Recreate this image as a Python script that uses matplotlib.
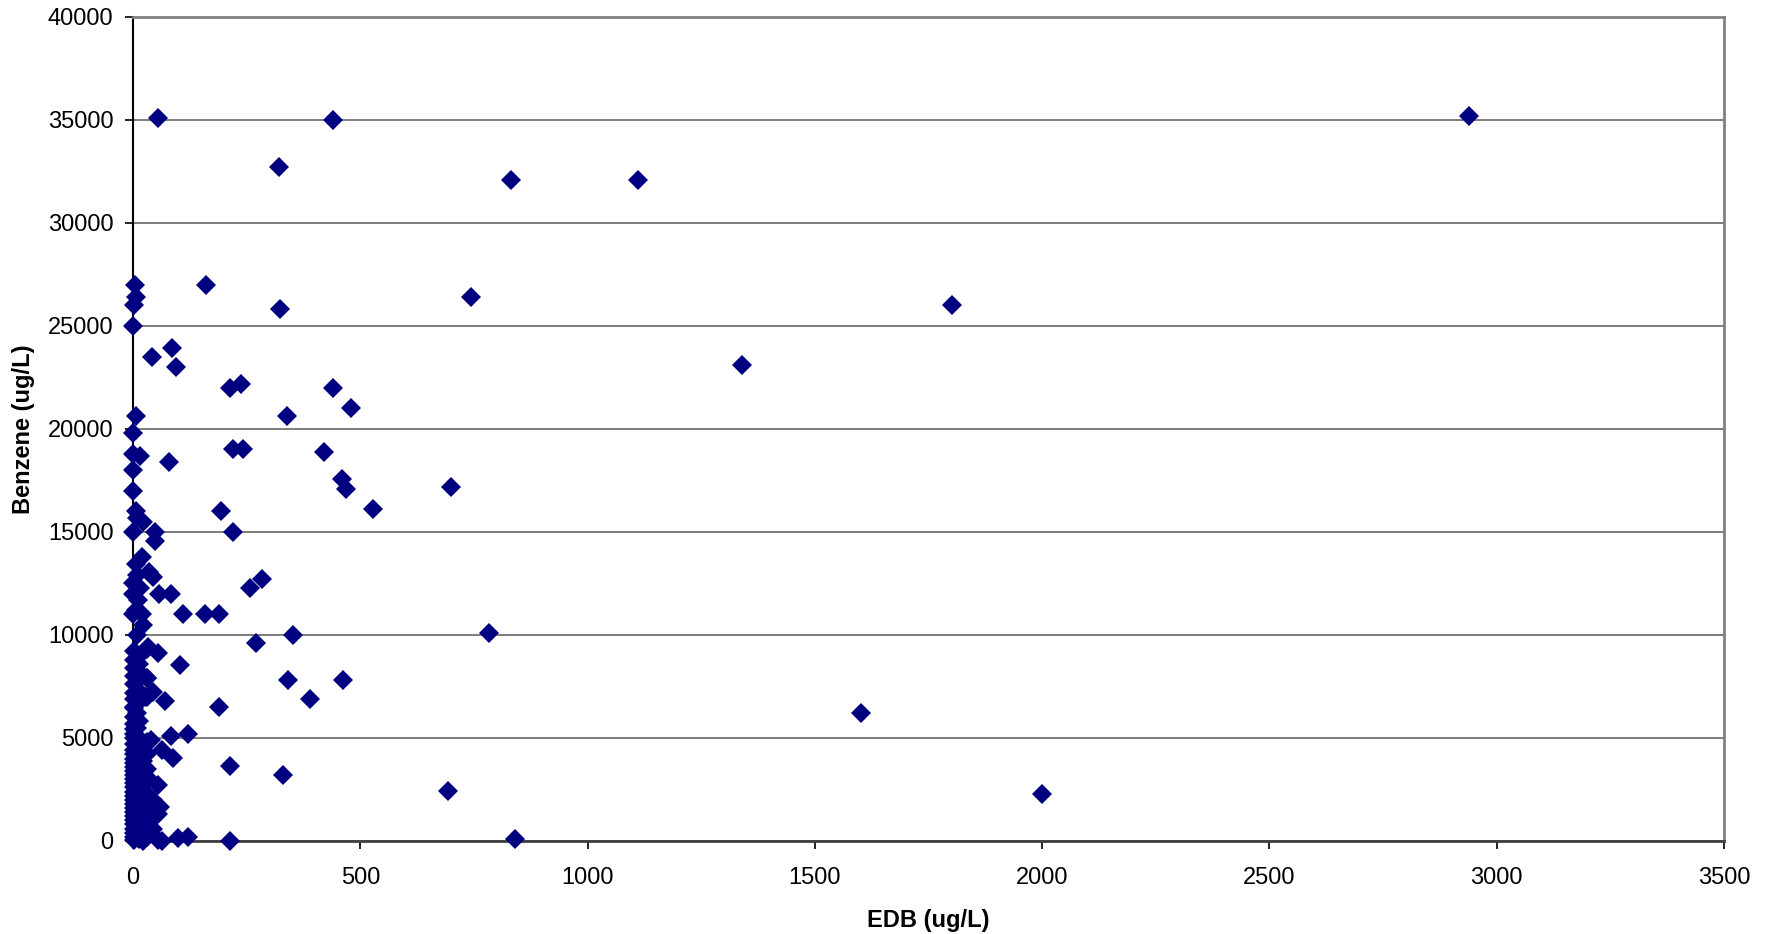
import numpy as np
import matplotlib.pyplot as plt

plt.rcParams['font.family'] = ['Liberation Sans', 'DejaVu Sans']

# EDB (ug/L) vs Benzene (ug/L)
# scattered points away from the axis
edb_far = [55, 440, 321, 832, 1110, 2939,
           4, 160, 7, 2, 0, 323, 744, 1802,
           41, 86, 95, 213, 237, 440, 480, 338, 1340,
           6, 0, 0, 15, 80, 221, 241, 420, 460, 469, 527, 699,
           0, 0, 6, 194, 8, 23, 0, 48, 48, 221,
           20, 6, 36, 45, 8, 0, 15, 0, 6, 0, 10, 20, 22, 58, 84,
           111, 158, 190, 257, 283, 8, 271, 353, 784]
benz_far = [35100, 35000, 32700, 32100, 32100, 35200,
            27000, 27000, 26400, 26000, 25000, 25800, 26400, 26000,
            23500, 23900, 23000, 22000, 22200, 22000, 21000, 20600, 23100,
            20600, 19800, 18800, 18700, 18400, 19000, 19000, 18900, 17550, 17100, 16100, 17200,
            18000, 17000, 16000, 16000, 15650, 15500, 15000, 15000, 14550, 15000,
            13800, 13450, 13050, 12800, 12900, 12500, 12300, 12000, 11200, 11000, 11700, 11000, 10500, 12000, 12000,
            11000, 11000, 11000, 12300, 12700, 10000, 9600, 10000, 10100]

# points below 10000
edb_low = [34, 56, 103, 30, 45, 26, 70, 3, 190, 84, 120, 89, 213, 331, 692, 2000, 841,
           1601, 389, 340, 463, 40, 63, 56, 59, 56, 45, 40, 56, 63, 100, 120, 213, 30, 45]
benz_low = [9430, 9140, 8560, 7890, 7210, 7000, 6790, 6450, 6490, 5090, 5200, 4010, 3640, 3200, 2410, 2300, 110,
            6200, 6890, 7800, 7800, 4900, 4420, 2720, 1660, 1300, 2000, 1000, 50, 0, 130, 180, 0, 200, 600]

# dense cluster along the benzene axis
edb_col0 = [2] * 37
benz_col0 = [9200, 8800, 8400, 8000, 7600, 7200, 6900, 6500, 6000, 5700, 5450, 5200, 5000,
             4700, 4400, 4200, 4000, 3800, 3600, 3400, 3200, 3000, 2800, 2600, 2400, 2200,
             2000, 1800, 1600, 1400, 1200, 1000, 800, 600, 400, 200, 50]
edb_col1 = [14] * 19
benz_col1 = [9000, 8600, 8200, 7300, 6800, 5800, 5000, 4500, 4100, 3700, 3300, 2900, 2500,
             2100, 1700, 1300, 900, 500, 100]
edb_col2 = [30] * 13
benz_col2 = [9300, 7900, 7000, 4800, 4200, 3500, 3100, 2300, 1900, 1500, 1100, 700, 300]
edb_col3 = [22] * 12
benz_col3 = [4400, 3900, 3600, 3000, 2700, 2000, 1700, 1300, 900, 500, 250, 0]
edb_col4 = [8] * 10
benz_col4 = [6200, 5500, 4900, 4300, 3500, 2700, 2300, 1500, 700, 300]

edb = edb_far + edb_low + edb_col0 + edb_col1 + edb_col2 + edb_col3 + edb_col4
benzene = benz_far + benz_low + benz_col0 + benz_col1 + benz_col2 + benz_col3 + benz_col4

fig = plt.figure(figsize=(17.71, 9.34), dpi=100)
ax = fig.add_axes([0.0751, 0.0996, 0.8984, 0.8825])

ax.plot(edb, benzene, linestyle='none', marker='D', markersize=10.6,
        color='#000080', markeredgewidth=0, clip_on=False, zorder=3)

ax.set_xlim(0, 3500)
ax.set_ylim(0, 40000)
ax.set_xticks(np.arange(0, 3501, 500))
ax.set_yticks(np.arange(0, 40001, 5000))
ax.yaxis.grid(True, color='#5a5a5a', linewidth=1.1)
ax.set_axisbelow(True)

for s in ['top', 'right']:
    ax.spines[s].set_color('#808080')
    ax.spines[s].set_linewidth(2)
ax.spines['left'].set_color('black')
ax.spines['left'].set_linewidth(1.5)
ax.spines['bottom'].set_color('#404040')
ax.spines['bottom'].set_linewidth(2)

ax.tick_params(axis='y', direction='out', length=6, width=1.2, pad=8, labelsize=17)
ax.tick_params(axis='x', direction='out', length=6, width=1.2, pad=13, labelsize=17)

ax.set_xlabel('EDB (ug/L)', fontsize=17, fontweight='bold', va='center')
ax.set_ylabel('Benzene (ug/L)', fontsize=17, fontweight='bold', va='center')
ax.xaxis.set_label_coords(0.5, -0.097)
ax.yaxis.set_label_coords(-0.069, 0.5)

fig.savefig('out.png', dpi=100)
